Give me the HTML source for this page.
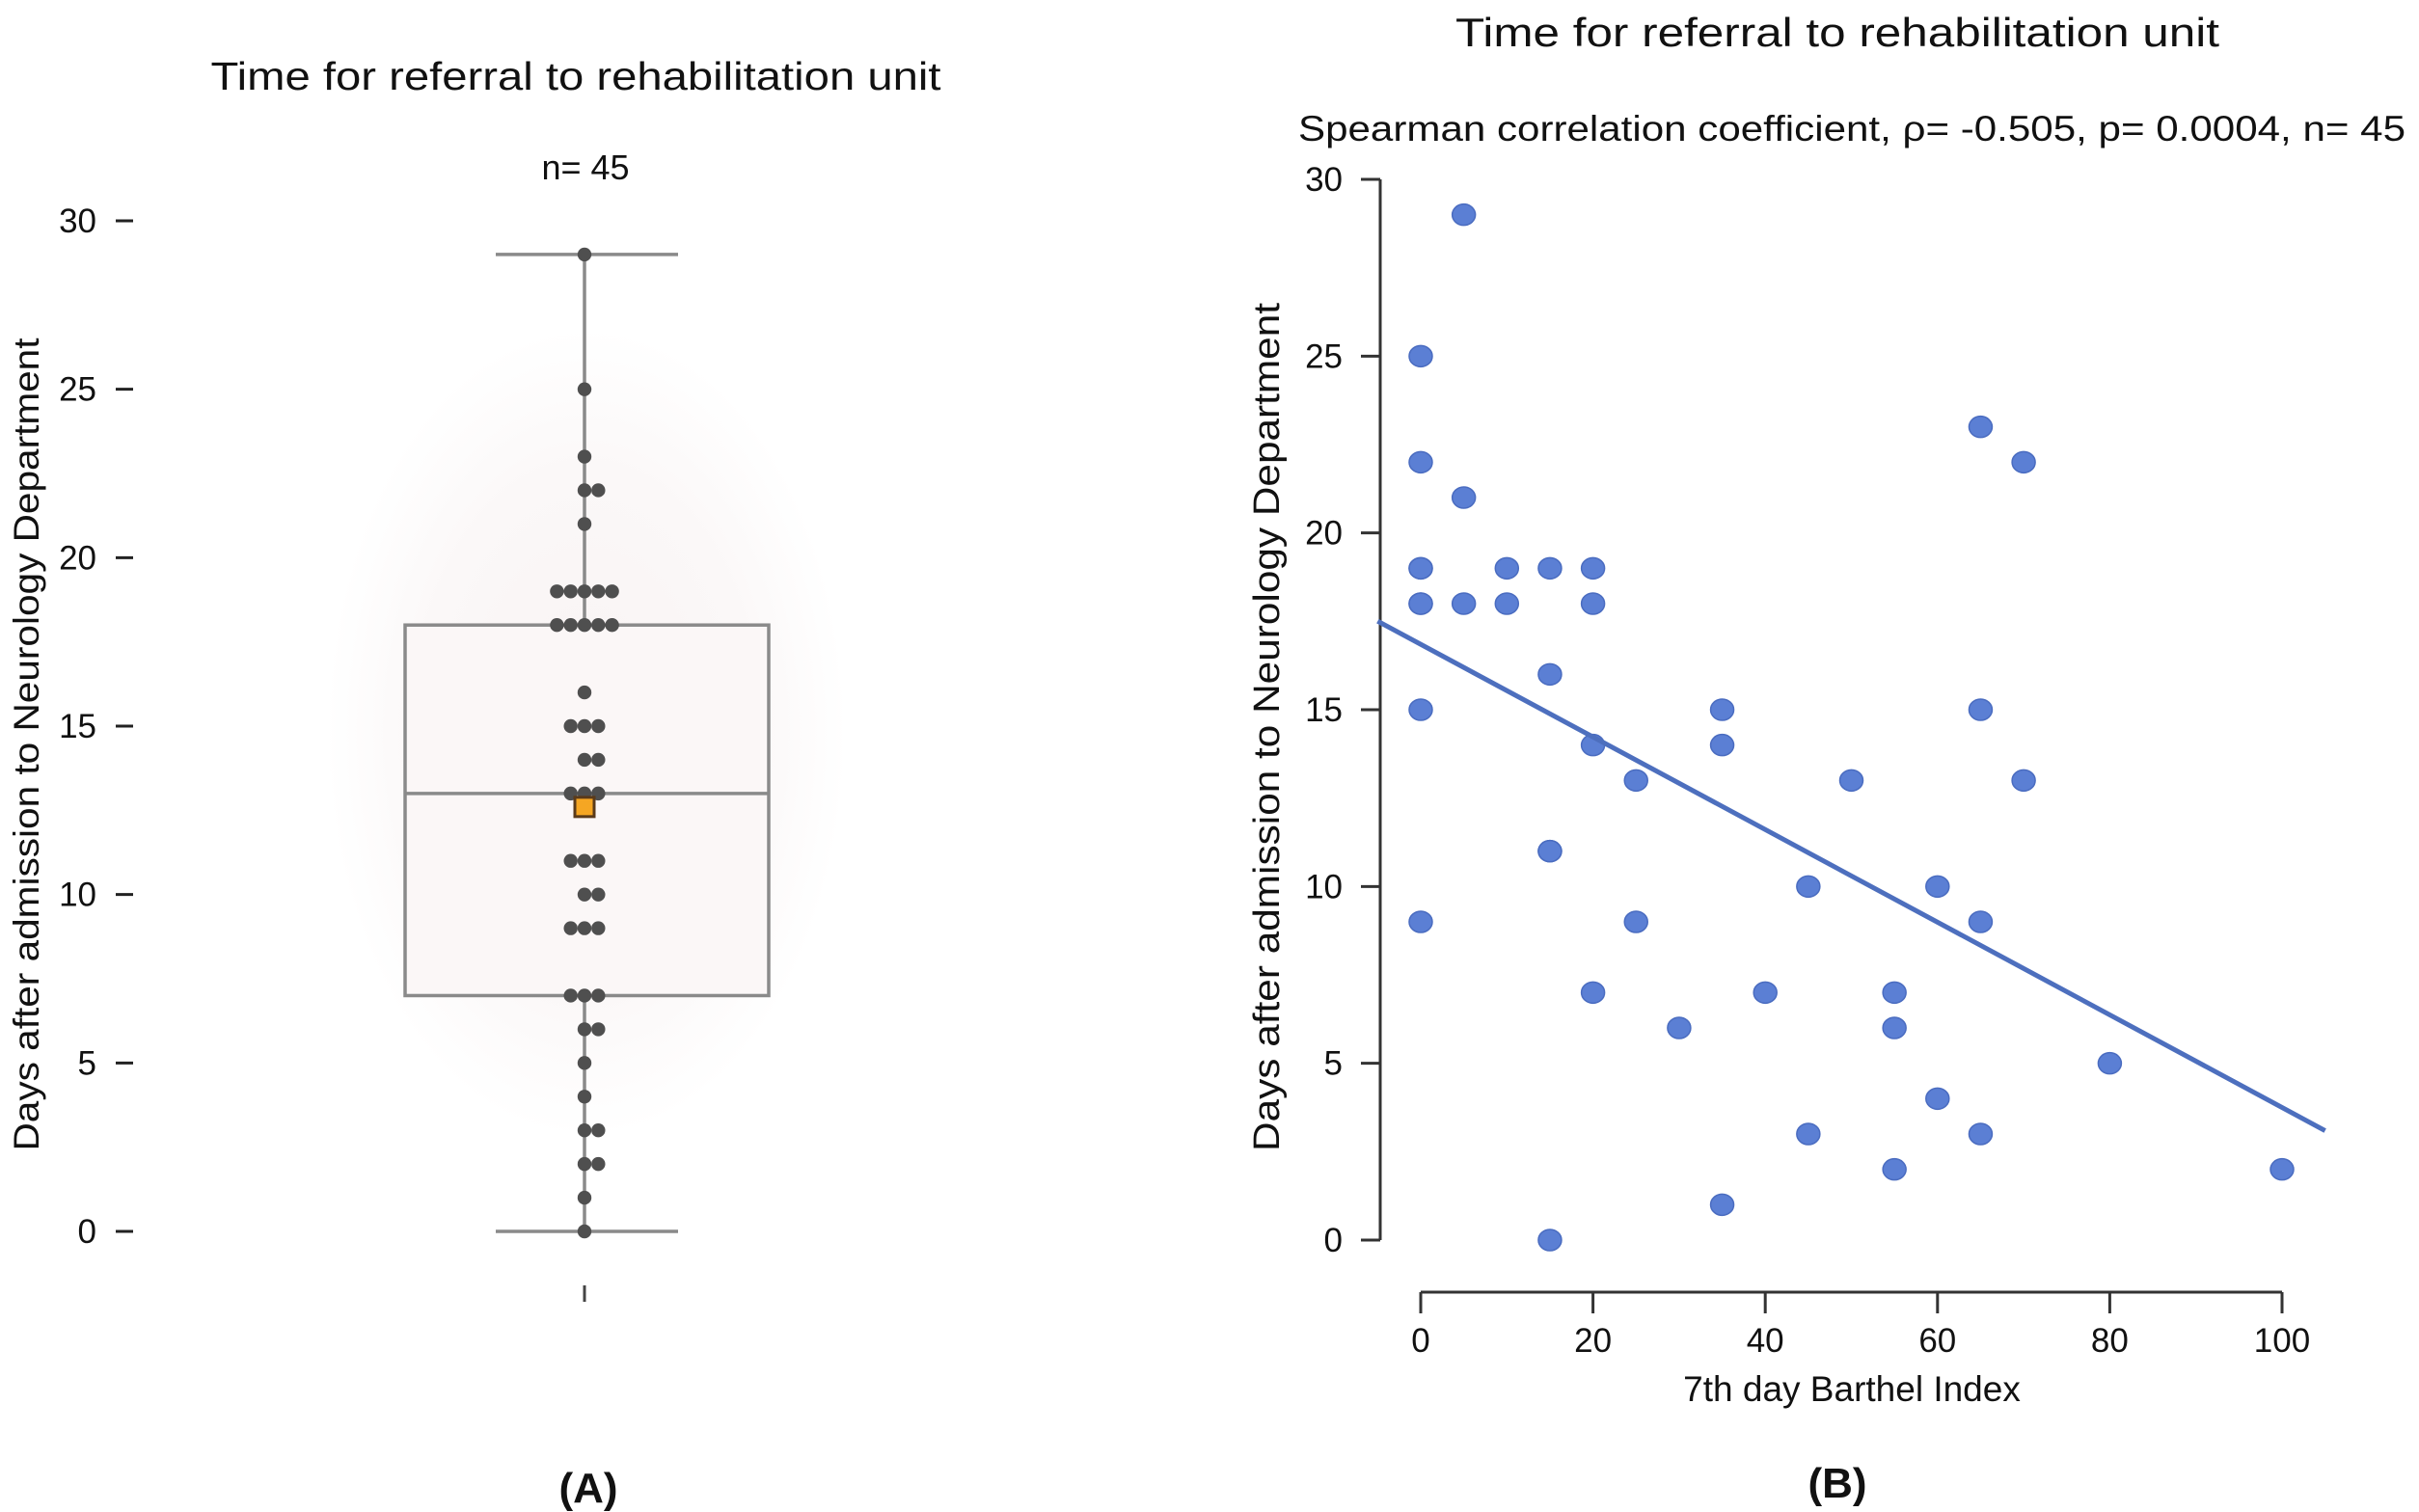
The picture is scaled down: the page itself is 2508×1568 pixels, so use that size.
<!DOCTYPE html>
<html><head><meta charset="utf-8">
<style>
html,body{margin:0;padding:0;background:#fff;}
svg{display:block;font-family:"Liberation Sans",Arial,sans-serif;}
</style></head>
<body>
<svg id="chart" width="2508" height="1568" viewBox="0 0 2508 1568" xmlns="http://www.w3.org/2000/svg">
<defs>
<radialGradient id="glow" cx="50%" cy="50%" r="50%">
<stop offset="0%" stop-color="#f8f3f3"/>
<stop offset="65%" stop-color="#fbf8f8"/>
<stop offset="100%" stop-color="#ffffff"/>
</radialGradient>
</defs>
<g id="panelA">
<ellipse cx="608" cy="760" rx="270" ry="420" fill="url(#glow)"/>
<text x="597" y="93" font-size="41" text-anchor="middle" textLength="757" lengthAdjust="spacingAndGlyphs" fill="#111">Time for referral to rehabilitation unit</text>
<text x="607" y="186" font-size="36" text-anchor="middle" fill="#111">n= 45</text>
<text transform="translate(40,772) rotate(-90)" font-size="37" text-anchor="middle" textLength="843" lengthAdjust="spacingAndGlyphs" fill="#111">Days after admission to Neurology Department</text>
<g id="aTicks"></g>
<g id="aBox"></g>
<g id="aDots"></g>
<line x1="606" y1="1333" x2="606" y2="1350" stroke="#444" stroke-width="3"/>
<text x="610" y="1558" font-size="44" font-weight="bold" text-anchor="middle" fill="#111">(A)</text>
</g>
<g id="panelB">
<text x="1905" y="48" font-size="42" text-anchor="middle" textLength="792" lengthAdjust="spacingAndGlyphs" fill="#111">Time for referral to rehabilitation unit</text>
<text x="1920" y="146" font-size="37" text-anchor="middle" textLength="1148" lengthAdjust="spacingAndGlyphs" fill="#111">Spearman correlation coefficient, ρ= -0.505, p= 0.0004, n= 45</text>
<text transform="translate(1326,754) rotate(-90)" font-size="38" text-anchor="middle" textLength="880" lengthAdjust="spacingAndGlyphs" fill="#111">Days after admission to Neurology Department</text>
<text x="1920" y="1453" font-size="37" text-anchor="middle" fill="#111">7th day Barthel Index</text>
<g id="bAxes"></g>
<g id="bDots"></g>
<g id="bLine"></g>
<text x="1905" y="1553" font-size="44" font-weight="bold" text-anchor="middle" fill="#111">(B)</text>
</g>
</svg>
<script>
// Panel A data
const aTickValues = [0, 5, 10, 15, 20, 25, 30];
const aDotValues = [29,25,23,22,22,21,19,19,19,19,19,18,18,18,18,18,16,15,15,15,14,14,13,13,13,11,11,11,10,10,9,9,9,7,7,7,6,6,5,4,3,3,2,2,1,0];
const aBoxStats = [0, 7, 13, 18, 29]; // min, q1, median, q3, max
const aMean = [12.6];
// Panel B data
const bXTicks = [0, 20, 40, 60, 80, 100];
const bYTicks = [0, 5, 10, 15, 20, 25, 30];
const bX = [0,0,0,0,0,0,0,0,5,5,5,10,10,15,15,15,15,15,20,20,20,20,25,25,30,35,35,35,40,45,45,50,55,55,55,60,60,65,65,65,65,70,70,80,100];
const bY = [25,22,19,19,18,18,15,9,29,21,18,19,18,19,16,11,11,0,19,18,14,7,13,9,6,15,14,1,7,10,3,13,7,6,2,10,4,23,15,9,3,22,13,5,2];
const bFit = [16.85, -0.131]; // intercept, slope
const bFitRange = [-5, 105];

const NS = 'http://www.w3.org/2000/svg';
function mk(tag, attrs, parent){const e=document.createElementNS(NS,tag);for(const k in attrs)e.setAttribute(k,attrs[k]);parent.appendChild(e);return e;}

const ay = v => 1277 - v * (1277 - 229) / 30;
const aCx = 606;
const aT = document.getElementById('aTicks');
aTickValues.forEach(v => {
  const l = mk('line',{x1:120,x2:138,y1:ay(v),y2:ay(v),stroke:'#222','stroke-width':3},aT);
  
  
  const t = mk('text',{x:100,y:ay(v)+12,'font-size':35,'text-anchor':'end',fill:'#111'},aT);
  t.textContent = v;
  
  
});
const aB = document.getElementById('aBox');
const gs = {stroke:'#8a8a8a','stroke-width':3.5,fill:'none'};
let e;
e = mk('rect',Object.assign({x:420,y:ay(aBoxStats[3]),width:377,height:ay(aBoxStats[1])-ay(aBoxStats[3])},gs,{fill:'#fbf7f7'}),aB);


e = mk('line',Object.assign({x1:420,x2:797,y1:ay(aBoxStats[2]),y2:ay(aBoxStats[2])},gs),aB);


e = mk('line',Object.assign({x1:aCx,x2:aCx,y1:ay(aBoxStats[4]),y2:ay(aBoxStats[3])},gs),aB);


e = mk('line',Object.assign({x1:aCx,x2:aCx,y1:ay(aBoxStats[1]),y2:ay(aBoxStats[0])},gs),aB);


e = mk('line',Object.assign({x1:514,x2:703,y1:ay(aBoxStats[4]),y2:ay(aBoxStats[4])},gs),aB);


e = mk('line',Object.assign({x1:514,x2:703,y1:ay(aBoxStats[0]),y2:ay(aBoxStats[0])},gs),aB);


const aD = document.getElementById('aDots');
const counts = {};
aDotValues.forEach(v => counts[v] = (counts[v]||0)+1);
const offs = {1:[0],2:[0,1],3:[-1,0,1],4:[-1,0,1,2],5:[-2,-1,0,1,2],6:[-2,-1,0,1,2,3]};
Object.keys(counts).forEach(k => {
  const n = counts[k];
  const o = offs[n] || offs[6];
  for (let i=0;i<n;i++){
    const c = mk('circle',{cx:aCx+o[i]*14.3,cy:ay(+k),r:7.2,fill:'#4f4f4f'},aD);
    
    
  }
});
e = mk('rect',{x:aCx-10,y:ay(aMean[0])-10,width:20,height:20,fill:'#f5a623',stroke:'#5a3a1a','stroke-width':3},aD);



const bx = v => 1473 + v * (2366 - 1473) / 100;
const by = v => 1286 - v * (1286 - 186) / 30;
const bA = document.getElementById('bAxes');
e = mk('line',{x1:1431,x2:1431,y1:by(30),y2:by(0),stroke:'#333','stroke-width':3},bA);


e = mk('line',{x1:bx(0),x2:bx(100),y1:1340,y2:1340,stroke:'#333','stroke-width':3},bA);


bYTicks.forEach(v => {
  const l = mk('line',{x1:1411,x2:1431,y1:by(v),y2:by(v),stroke:'#333','stroke-width':3},bA);
  
  
  const t = mk('text',{x:1392,y:by(v)+12,'font-size':35,'text-anchor':'end',fill:'#111'},bA);
  t.textContent = v;
  
  
});
bXTicks.forEach(v => {
  const l = mk('line',{x1:bx(v),x2:bx(v),y1:1340,y2:1362,stroke:'#333','stroke-width':3},bA);
  
  
  const t = mk('text',{x:bx(v),y:1402,'font-size':35,'text-anchor':'middle',fill:'#111'},bA);
  t.textContent = v;
  
  
});
const bD = document.getElementById('bDots');
bX.forEach((xv,i) => {
  const c = mk('ellipse',{cx:bx(xv),cy:by(bY[i]),rx:12,ry:11,fill:'#5b7fd4',stroke:'#4a6cc0','stroke-width':1.5},bD);
  
  
});
const bL = document.getElementById('bLine');
e = mk('line',{x1:bx(bFitRange[0]),y1:by(bFit[0]+bFit[1]*bFitRange[0]),x2:bx(bFitRange[1]),y2:by(bFit[0]+bFit[1]*bFitRange[1]),stroke:'#4d6fbe','stroke-width':5},bL);


</script>
</body></html>
